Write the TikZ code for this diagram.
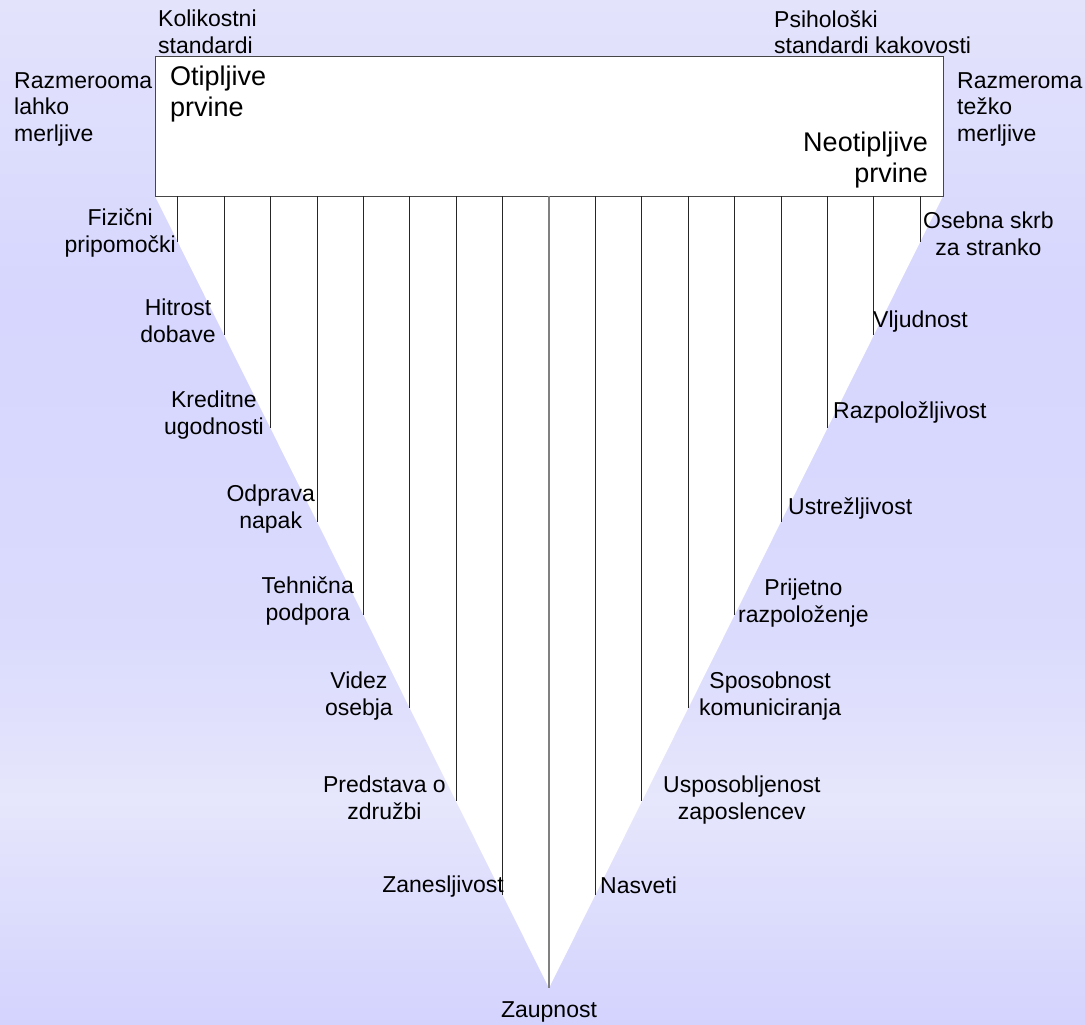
\documentclass[tikz,border=0pt]{standalone}
\usepackage{fontspec}
\setmainfont{Liberation Sans}
\usepackage{tikz}
\usetikzlibrary{positioning,calc}

\definecolor{bgtop}{RGB}{227,227,252}
\definecolor{bgmid}{RGB}{214,214,254}
\definecolor{bglight}{RGB}{230,230,252}
\definecolor{bgbot}{RGB}{211,211,254}
\definecolor{rimgray}{RGB}{70,70,70}

\newcommand\lblfont{\fontsize{23}{26.5}\selectfont}
\newcommand\headfont{\fontsize{27}{31}\selectfont}

\begin{document}
\begin{tikzpicture}[
    x=1pt, y=-1pt,
    lbl/.style={font=\lblfont, align=center, inner sep=0pt, text=black},
    head/.style={font=\headfont, inner sep=0pt, text=black},
    tick/.style={draw=black!85, line width=0.8pt},
    rim/.style={draw=rimgray, line width=1pt, fill=white}
]
\useasboundingbox (0,0) rectangle (1085,1025);
\shade[top color=bgtop, bottom color=bgmid] (0,0) rectangle (1085,300);
\shade[top color=bgmid, bottom color=bgmid!70!bglight] (0,300) rectangle (1085,640);
\shade[top color=bgmid!70!bglight, bottom color=bglight] (0,640) rectangle (1085,800);
\shade[top color=bglight, bottom color=bgbot] (0,800) rectangle (1085,1025);

\coordinate (tl) at (155,196);
\coordinate (tr) at (943,196);
\coordinate (apex) at (549,988);
\fill[white] (tl) -- (tr) -- (apex) -- cycle;

\node[rim, anchor=north west, minimum width=788pt, minimum height=140pt] (box) at (155,56) {};

\foreach \k in {1,...,8}{
  \coordinate (lt\k) at ({549-46.4*\k},196);
  \coordinate (lb\k) at ({549-46.4*\k},{988-93.27*\k});
  \coordinate (rt\k) at ({549+46.4*\k},196);
  \coordinate (rb\k) at ({549+46.4*\k},{988-93.27*\k});
  \draw[tick] (lt\k) -- (lb\k);
  \draw[tick] (rt\k) -- (rb\k);
}
\coordinate (mt) at (549,196);
\draw[draw=gray, line width=1.3pt] (mt) -- (apex);

\node[lbl, anchor=west, align=left] (kol) at (158,32) {Kolikostni\\standardi};
\node[lbl, anchor=west, align=left] (psi) at (774,32) {Psihološki\\standardi kakovosti};
\node[lbl, anchor=west, align=left] (lahko) at (14,109) {Razmerooma\\lahko\\merljive};
\node[lbl, anchor=west, align=left] (tezko) at (957,109) {Razmeroma\\težko\\merljive};
\node[head, anchor=west, align=left] (otip) at (170,94) {Otipljive\\prvine};
\node[head, anchor=east, align=right] (neotip) at (928,160) {Neotipljive\\prvine};

\node[lbl, anchor=east] (fiz) at (176,233) {Fizični\\pripomočki};
\node[lbl, anchor=east] (hit) at (216,321) {Hitrost\\dobave};
\node[lbl, anchor=east] (kre) at (264,415) {Kreditne\\ugodnosti};
\node[lbl, anchor=east] (odp) at (315,509) {Odprava\\napak};
\node[lbl, anchor=east] (teh) at (354,601) {Tehnična\\podpora};
\node[lbl, anchor=east] (vid) at (393,696) {Videz\\osebja};
\node[lbl, anchor=east] (pred) at (446,798) {Predstava o\\združbi};
\node[lbl, anchor=east] (zan) at (504,887) {Zanesljivost};

\node[lbl, anchor=west] (oseb) at (923,234) {Osebna skrb\\za stranko};
\node[lbl, anchor=west] (vlj) at (873,322) {Vljudnost};
\node[lbl, anchor=west] (razp) at (833,413) {Razpoložljivost};
\node[lbl, anchor=west] (ustr) at (788,509) {Ustrežljivost};
\node[lbl, anchor=west] (prij) at (738,603) {Prijetno\\razpoloženje};
\node[lbl, anchor=west] (spos) at (699,696) {Sposobnost\\komuniciranja};
\node[lbl, anchor=west] (uspo) at (663,800) {Usposobljenost\\zaposlencev};
\node[lbl, anchor=west] (nas) at (600,885) {Nasveti};
\node[lbl] (zaup) at (549,1012) {Zaupnost};
\end{tikzpicture}
\end{document}
